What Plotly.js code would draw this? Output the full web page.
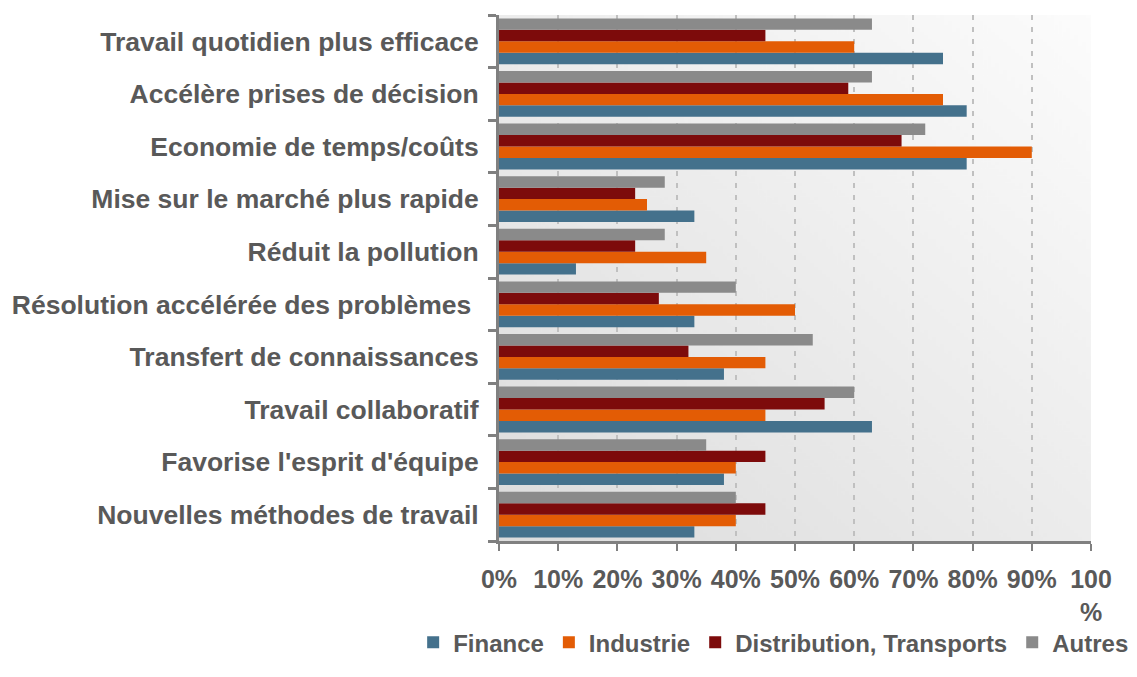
<!DOCTYPE html>
<html>
<head>
<meta charset="utf-8">
<script src="https://cdn.plot.ly/plotly-3.0.1.min.js"></script>
<style>html,body{margin:0;padding:0;background:#fff;}#chart{width:1137px;height:677px;}</style>
</head>
<body>
<div id="chart"></div>
<script>
// Categories from bottom to top
const categories = [
  "Nouvelles méthodes de travail",
  "Favorise l'esprit d'équipe",
  "Travail collaboratif",
  "Transfert de connaissances",
  "Résolution accélérée des problèmes ",
  "Réduit la pollution",
  "Mise sur le marché plus rapide",
  "Economie de temps/coûts",
  "Accélère prises de décision",
  "Travail quotidien plus efficace"
];
const seriesNames = ["Finance", "Industrie", "Distribution, Transports", "Autres"];
const finance      = [0.33, 0.38, 0.63, 0.38, 0.33, 0.13, 0.33, 0.79, 0.79, 0.75];
const industrie    = [0.40, 0.40, 0.45, 0.45, 0.50, 0.35, 0.25, 0.90, 0.75, 0.60];
const distribution = [0.45, 0.45, 0.55, 0.32, 0.27, 0.23, 0.23, 0.68, 0.59, 0.45];
const autres       = [0.40, 0.35, 0.60, 0.53, 0.40, 0.28, 0.28, 0.72, 0.63, 0.63];
const xTickVals = [0, 0.1, 0.2, 0.3, 0.4, 0.5, 0.6, 0.7, 0.8, 0.9, 1.0];
const xTickText = ["0%", "10%", "20%", "30%", "40%", "50%", "60%", "70%", "80%", "90%", "100<br>%"];

const colors = ["#44718c", "#e35c05", "#7d0b0b", "#8a8a8a"];
const values = [finance, industrie, distribution, autres];

// gradient background for plot area
const cv = document.createElement('canvas');
cv.width = 300; cv.height = 300;
const ctx = cv.getContext('2d');
const g = ctx.createLinearGradient(0, 300, 300, 0);
g.addColorStop(0, '#dcdcdc');
g.addColorStop(1, '#fcfcfc');
ctx.fillStyle = g;
ctx.fillRect(0, 0, 300, 300);
const bgUrl = cv.toDataURL();

const traces = values.map((v, i) => ({
  type: 'bar',
  orientation: 'h',
  name: seriesNames[i],
  y: categories,
  x: v,
  marker: {color: colors[i], line: {width: 0}},
  hoverinfo: 'x+y+name'
}));

const fam = '"Liberation Sans", Arial, sans-serif';
const font = {family: fam, size: 25, color: '#595959', weight: 'bold'};
const yfont = {family: fam, size: 26.5, color: '#595959', weight: 'bold'};
const lfont = {family: fam, size: 24, color: '#595959', weight: 'bold'};

const layout = {
  width: 1137, height: 677,
  margin: {l: 499, r: 46, t: 15, b: 129, pad: 0},
  paper_bgcolor: '#ffffff',
  plot_bgcolor: 'rgba(0,0,0,0)',
  barmode: 'group',
  bargap: 0.13,
  bargroupgap: 0,
  font: font,
  showlegend: true,
  legend: {
    orientation: 'h',
    x: -0.145, xanchor: 'left', y: -0.236, yanchor: 'bottom',
    font: lfont, traceorder: 'normal', itemwidth: 30, bgcolor: 'rgba(0,0,0,0)'
  },
  xaxis: {
    range: [0, 1.0],
    tickvals: xTickVals, ticktext: xTickText,
    showgrid: true, gridcolor: '#c0c0c0', gridwidth: 2, griddash: '5px,7px',
    showline: true, linecolor: '#808080', linewidth: 3,
    ticks: 'outside', ticklen: 7, tickwidth: 2, tickcolor: '#808080',
    tickfont: font, zeroline: false, fixedrange: true, automargin: false,
    ticklabelstandoff: 7
  },
  yaxis: {
    type: 'category', categoryorder: 'array', categoryarray: categories,
    showline: true, linecolor: '#808080', linewidth: 3,
    ticks: 'outside', ticklen: 8, tickwidth: 3, tickcolor: '#808080',
    tickson: 'boundaries', showgrid: false,
    tickfont: yfont, automargin: false, fixedrange: true, ticklabelstandoff: 12
  },
  images: [{
    source: bgUrl, xref: 'paper', yref: 'paper', x: 0, y: 1, sizex: 1, sizey: 1,
    sizing: 'stretch', layer: 'below', xanchor: 'left', yanchor: 'top'
  }]
};

Plotly.newPlot('chart', traces, layout, {displayModeBar: false, staticPlot: true});
</script>
</body>
</html>
